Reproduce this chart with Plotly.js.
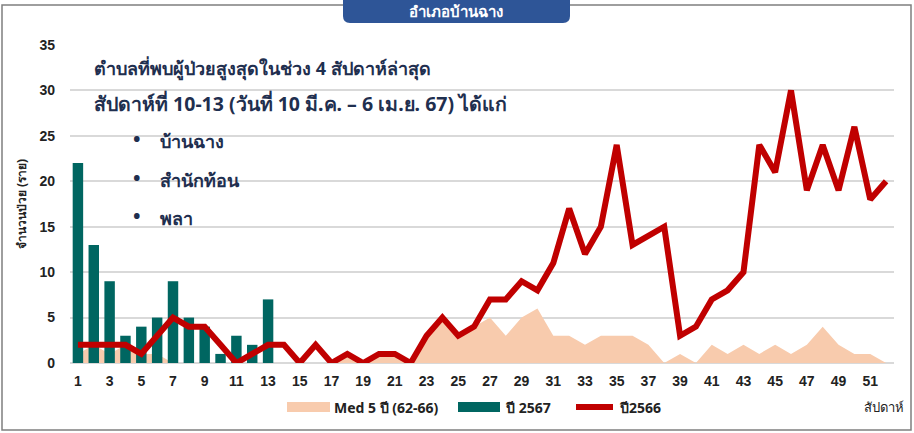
<!DOCTYPE html>
<html>
<head>
<meta charset="utf-8">
<script src="https://cdn.plot.ly/plotly-3.0.1.min.js"></script>
<style>
html,body{margin:0;padding:0;background:#fff;}
#chart{width:914px;height:433px;}
</style>
</head>
<body>
<div id="chart"></div>
<script>
// ---- data ----
const weeks = [1,2,3,4,5,6,7,8,9,10,11,12,13,14,15,16,17,18,19,20,21,22,23,24,25,26,27,28,29,30,31,32,33,34,35,36,37,38,39,40,41,42,43,44,45,46,47,48,49,50,51,52];
const weeks2567 = [1,2,3,4,5,6,7,8,9,10,11,12,13];
const cases2567 = [22,13,9,3,4,5,9,5,4,1,3,2,7];
const cases2566 = [2,2,2,2,1,3,5,4,4,2,0,1,2,2,0,2,0,1,0,1,1,0,3,5,3,4,7,7,9,8,11,17,12,15,24,13,14,15,3,4,7,8,10,24,21,30,19,24,19,26,18,20];
const median5y = [1,2,1,2,1,1,0,0,0,0,0,0,0,0,0,0,0,1,0,1,1,0,3,5,3,4,5,3,5,6,3,3,2,3,3,3,2,0,1,0,2,1,2,1,2,1,2,4,2,1,1,0];
const tickWeeks = [1,3,5,7,9,11,13,15,17,19,21,23,25,27,29,31,33,35,37,39,41,43,45,47,49,51];
const seriesNames = ['Med 5 ปี (62-66)', 'ปี 2567', 'ปี2566'];
const chartTitle = 'อำเภอบ้านฉาง';
const noteLines = ['ตำบลที่พบผู้ป่วยสูงสุดในช่วง 4 สัปดาห์ล่าสุด', 'สัปดาห์ที่ 10-13 (วันที่ 10 มี.ค. – 6 เม.ย. 67) ได้แก่'];
const topAreas = ['บ้านฉาง', 'สำนักท้อน', 'พลา'];
const yTitle = 'จำนวนป่วย (ราย)';
const xTitle = 'สัปดาห์';

// ---- styling ----
const C_MED = '#F8CBAD', C_BAR = '#006661', C_LINE = '#C00000', C_TXT = '#1F2F4F', C_BOX = '#2E5597';
const ML = 70, MR = 20, MT = 45, MB = 70, W = 914, H = 433;
const PW = W - ML - MR, PH = H - MT - MB;
const px = p => (p - ML) / PW;
const py = p => (H - MB - p) / PH;
const thaiFont = 'Noto Sans, DejaVu Sans, sans-serif';

const traces = [
  {type:'scatter', mode:'none', x:weeks, y:median5y, fill:'tozeroy', fillcolor:C_MED,
   name:seriesNames[0], showlegend:false, xaxis:'x', yaxis:'y', hoverinfo:'x+y'},
  {type:'bar', x:weeks2567, y:cases2567, marker:{color:C_BAR}, width:0.66,
   name:seriesNames[1], showlegend:false, xaxis:'x2', yaxis:'y2'},
  {type:'scatter', mode:'lines', x:weeks, y:cases2566, line:{color:C_LINE, width:6},
   name:seriesNames[2], showlegend:false, xaxis:'x2', yaxis:'y2'}
];

const annotations = [];
annotations.push({xref:'paper', yref:'paper', x:px(456), y:py(11), xanchor:'center', yanchor:'middle',
  text:'<b>'+chartTitle+'</b>', showarrow:false, font:{family:thaiFont, size:15, color:'#ffffff'}});
annotations.push({xref:'paper', yref:'paper', x:px(92), y:py(68), xanchor:'left', yanchor:'middle',
  text:'<b>'+noteLines[0]+'</b>', showarrow:false, font:{family:thaiFont, size:18, color:C_TXT}});
annotations.push({xref:'paper', yref:'paper', x:px(92), y:py(104), xanchor:'left', yanchor:'middle',
  text:'<b>'+noteLines[1]+'</b>', showarrow:false, font:{family:thaiFont, size:19.5, color:C_TXT}});
const bulletY = [141, 180, 218];
topAreas.forEach((t, i) => {
  annotations.push({xref:'paper', yref:'paper', x:px(131), y:py(bulletY[i] - 3), xanchor:'left', yanchor:'middle',
    text:'<b>•</b>', showarrow:false, font:{family:thaiFont, size:20, color:C_TXT}});
  annotations.push({xref:'paper', yref:'paper', x:px(158), y:py(bulletY[i]), xanchor:'left', yanchor:'middle',
    text:'<b>'+t+'</b>', showarrow:false, font:{family:thaiFont, size:18, color:C_TXT}});
});
// legend texts
const legX = [332, 503, 617];
seriesNames.forEach((t, i) => {
  annotations.push({xref:'paper', yref:'paper', x:px(legX[i]), y:py(407), xanchor:'left', yanchor:'middle',
    text:'<b>'+t+'</b>', showarrow:false, font:{family:thaiFont, size:14, color:'#222'}});
});
annotations.push({xref:'paper', yref:'paper', x:px(906), y:py(407), xanchor:'right', yanchor:'middle',
  text:xTitle, showarrow:false, font:{family:thaiFont, size:13, color:'#222'}});

// title box with rounded bottom corners
const bx0 = px(343), bx1 = px(570), byT = py(-5), byB = py(23);
const rx = 7 / PW, ry = 7 / PH;
const boxPath = `M${bx0},${byT} L${bx0},${byB + ry} Q${bx0},${byB} ${bx0 + rx},${byB} L${bx1 - rx},${byB} Q${bx1},${byB} ${bx1},${byB + ry} L${bx1},${byT} Z`;

const shapes = [
  {type:'rect', xref:'paper', yref:'paper', x0:px(2), x1:px(911), y0:py(430), y1:py(5),
   line:{color:'#7f7f7f', width:1.5}, fillcolor:'rgba(0,0,0,0)', layer:'below'},
  {type:'path', xref:'paper', yref:'paper', path:boxPath,
   line:{color:C_BOX, width:0}, fillcolor:C_BOX, layer:'below'},
  {type:'rect', xref:'paper', yref:'paper', x0:px(287), x1:px(330), y0:py(412), y1:py(402),
   line:{width:0}, fillcolor:C_MED},
  {type:'rect', xref:'paper', yref:'paper', x0:px(458), x1:px(500), y0:py(412), y1:py(402),
   line:{width:0}, fillcolor:C_BAR},
  {type:'line', xref:'paper', yref:'paper', x0:px(576), x1:px(613), y0:py(407), y1:py(407),
   line:{color:C_LINE, width:6}}
];

const axisRange = [0.5, 52.5];
const yRange = [0, 35];
const layout = {
  width:W, height:H, margin:{l:ML, r:MR, t:MT, b:MB},
  paper_bgcolor:'#fff', plot_bgcolor:'#fff', showlegend:false,
  xaxis:{range:axisRange, tickmode:'array', tickvals:tickWeeks, ticks:'', showgrid:false, zeroline:false,
    showline:false, ticklabelstandoff:8, tickfont:{family:'Liberation Sans, Arial', size:14, color:'#222', weight:'bold'}},
  yaxis:{range:yRange, dtick:5, tick0:0, showgrid:true, gridcolor:'#D9D9D9', gridwidth:2, zeroline:true,
    zerolinecolor:'#D9D9D9', zerolinewidth:2, showline:false, ticks:'', ticklabelstandoff:14,
    tickfont:{family:'Liberation Sans, Arial', size:14, color:'#222', weight:'bold'},
    title:{text:'<b>'+yTitle+'</b>', standoff:10, font:{family:thaiFont, size:12, color:'#222'}}},
  xaxis2:{range:axisRange, overlaying:'x', visible:false},
  yaxis2:{range:yRange, overlaying:'y', visible:false},
  annotations:annotations, shapes:shapes
};

Plotly.newPlot('chart', traces, layout, {displayModeBar:false, staticPlot:true});
</script>
</body>
</html>
